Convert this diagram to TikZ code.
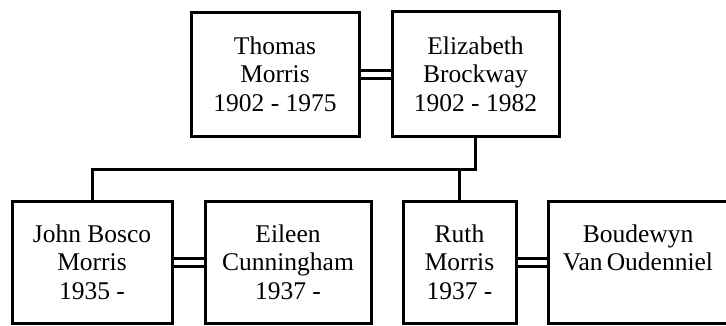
\documentclass[tikz,border=0pt]{standalone}
\usepackage{fontspec}
\setmainfont{Liberation Serif}
\tikzset{
	person/.style={draw,line width=3pt,align=center,inner sep=0pt,
		font=\fontsize{25.5}{28.5}\selectfont},
	wed/.style={double,double distance=5pt,line width=3pt},
	kin/.style={line width=3pt}
}
\begin{document}
\begin{tikzpicture}[x=1pt,y=-1pt]
	\useasboundingbox (0,0) rectangle (726,325);
	
	\node[person,minimum width=168pt,minimum height=124pt] (thomas) at (275,74) {Thomas\\Morris\\1902 - 1975};
	\node[person,minimum width=167pt,minimum height=125pt] (eliz) at (475.5,74) {Elizabeth\\Brockway\\1902 - 1982};
	
	\node[person,minimum width=160pt,minimum height=122pt] (john) at (92,262) {John Bosco\\Morris\\1935 -};
	\node[person,minimum width=166pt,minimum height=122pt] (eileen) at (288,262) {Eileen\\Cunningham\\1937 -};
	\node[person,minimum width=113pt,minimum height=122pt] (ruth) at (459.5,262) {Ruth\\Morris\\1937 -};
	\node[person,minimum width=180pt,minimum height=122pt] (boud) at (638,262) {Boudewyn\\Van\,Oudenniel\\\mbox{}};
	
	\draw[wed] (thomas.east) -- (eliz.west);
	\draw[wed] (john.east) -- (eileen.west);
	\draw[wed] (ruth.east) -- (boud.west);
	
	\coordinate (bar) at ([yshift=-31pt]eliz.south);
	\draw[kin] (eliz.south) -- (bar) -| (john.north);
	\draw[kin] (ruth.north) -- (ruth.north |- bar);
\end{tikzpicture}
\end{document}
